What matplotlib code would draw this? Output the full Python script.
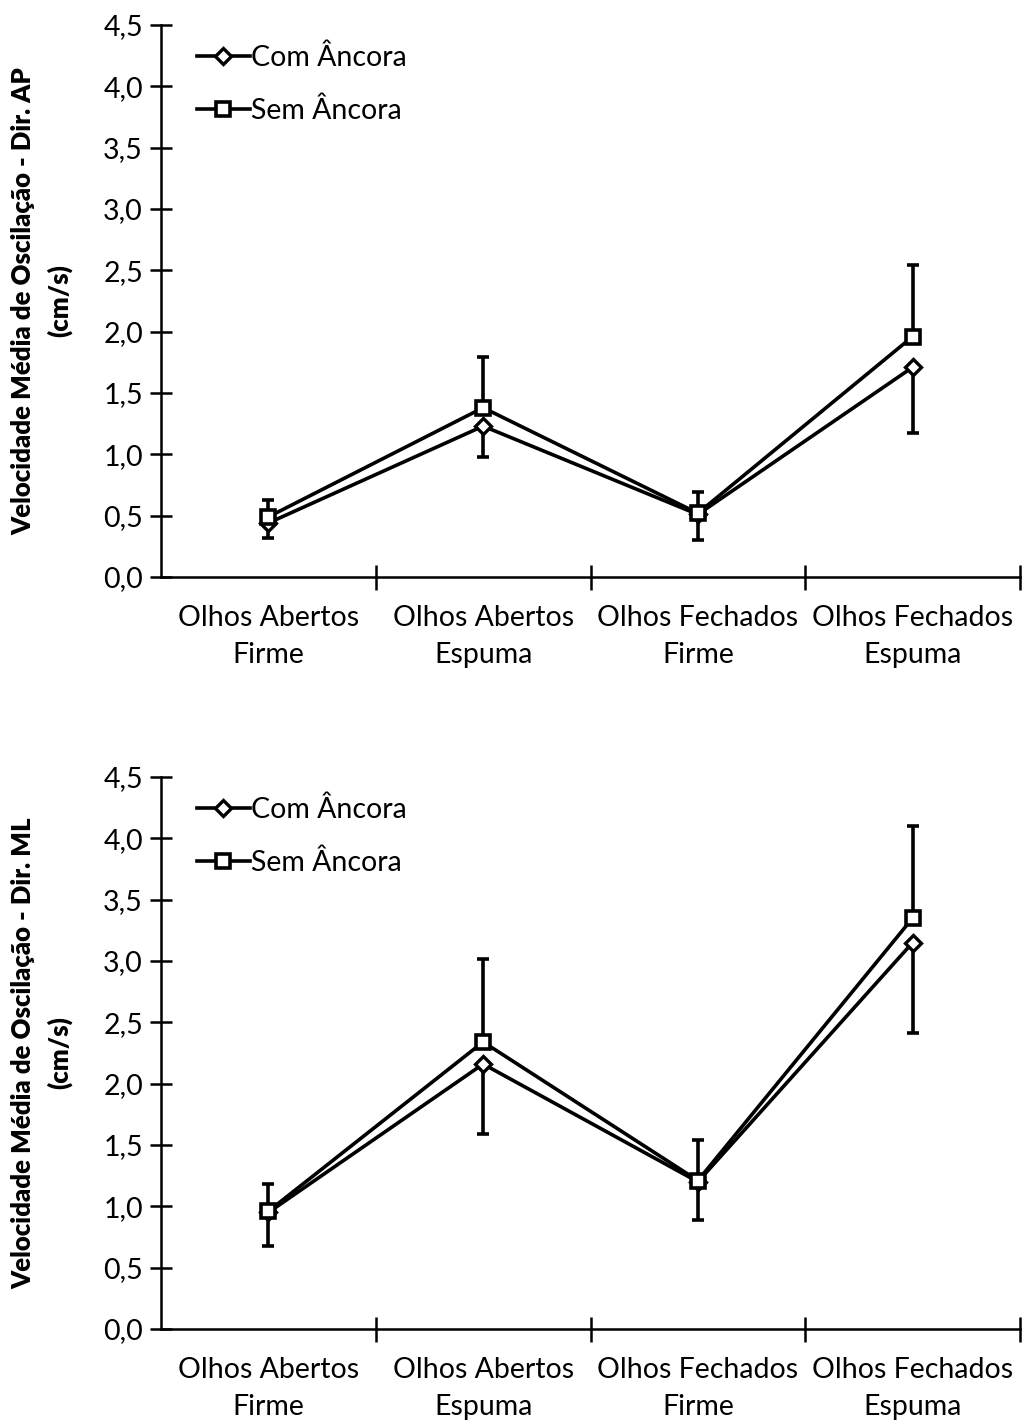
import numpy as np
import matplotlib
matplotlib.use('Agg')
import matplotlib.pyplot as plt

plt.rcParams['font.family'] = ['Lato', 'DejaVu Sans']

# categorias do eixo x
categorias = ['Olhos Abertos\nFirme', 'Olhos Abertos\nEspuma',
              'Olhos Fechados\nFirme', 'Olhos Fechados\nEspuma']

# Direção AP
ap_com = [0.44, 1.23, 0.51, 1.71]
ap_com_dp = [0.12, 0.25, 0.21, 0.54]
ap_sem = [0.49, 1.38, 0.52, 1.96]
ap_sem_dp = [0.14, 0.41, 0.17, 0.58]

# Direção ML
ml_com = [0.95, 2.16, 1.20, 3.15]
ml_com_dp = [0.27, 0.57, 0.31, 0.74]
ml_sem = [0.96, 2.34, 1.21, 3.35]
ml_sem_dp = [0.22, 0.68, 0.33, 0.75]

y_labels = ['Velocidade Média de Oscilação - Dir. AP\n(cm/s)',
            'Velocidade Média de Oscilação - Dir. ML\n(cm/s)']

fig = plt.figure(figsize=(10.22, 14.25), dpi=100)
W, H = 1022, 1425
ax1 = fig.add_axes([161 / W, 1 - 577 / H, (1020 - 161) / W, (577 - 25) / H])
ax2 = fig.add_axes([161 / W, 1 - 1329 / H, (1020 - 161) / W, (1329 - 777) / H])

x = np.arange(len(categorias))
lw = 2.6
fs = 20.5

for ax, com, com_dp, sem, sem_dp, ylab in [
        (ax1, ap_com, ap_com_dp, ap_sem, ap_sem_dp, y_labels[0]),
        (ax2, ml_com, ml_com_dp, ml_sem, ml_sem_dp, y_labels[1])]:

    # barras de erro: Com para baixo, Sem para cima
    ax.errorbar(x, com, yerr=[com_dp, [0] * 4], fmt='none', ecolor='black',
                elinewidth=lw, capsize=4.5, capthick=lw, zorder=2)
    ax.errorbar(x, sem, yerr=[[0] * 4, sem_dp], fmt='none', ecolor='black',
                elinewidth=lw, capsize=4.5, capthick=lw, zorder=2)

    ax.plot(x, com, color='black', lw=lw, marker='D', markersize=8.5,
            markerfacecolor='white', markeredgecolor='black', markeredgewidth=2.4,
            label='Com Âncora', zorder=3)
    ax.plot(x, sem, color='black', lw=lw, marker='s', markersize=10,
            markerfacecolor='white', markeredgecolor='black', markeredgewidth=2.6,
            label='Sem Âncora', zorder=4)

    ax.set_xlim(-0.5, 3.5)
    ax.set_ylim(0, 4.5)
    ax.set_yticks(np.arange(0, 4.51, 0.5))
    ax.set_yticklabels([f'{v:.1f}'.replace('.', ',') for v in np.arange(0, 4.51, 0.5)])

    # ticks do eixo x nas divisões entre categorias
    ax.set_xticks([0.5, 1.5, 2.5, 3.5])
    ax.set_xticklabels([])
    ax.set_xticks(x, minor=True)
    ax.set_xticklabels(categorias, minor=True, fontsize=fs, linespacing=1.55)
    ax.tick_params(axis='x', which='minor', length=0, pad=20)
    ax.tick_params(axis='x', which='major', direction='inout', length=18, width=1.8)
    ax.tick_params(axis='y', direction='inout', length=16, width=1.8, labelsize=fs, pad=5)

    for s in ['top', 'right']:
        ax.spines[s].set_visible(False)
    for s in ['left', 'bottom']:
        ax.spines[s].set_linewidth(1.8)

    ax.set_ylabel(ylab, fontsize=18.5, fontweight='heavy', linespacing=1.55, labelpad=22)

    ax.legend(loc='upper left', bbox_to_anchor=(0.012, 1.012), frameon=False,
              fontsize=fs, handlelength=1.85, handletextpad=0.05, labelspacing=0.95)

fig.savefig('out.png', dpi=100)
